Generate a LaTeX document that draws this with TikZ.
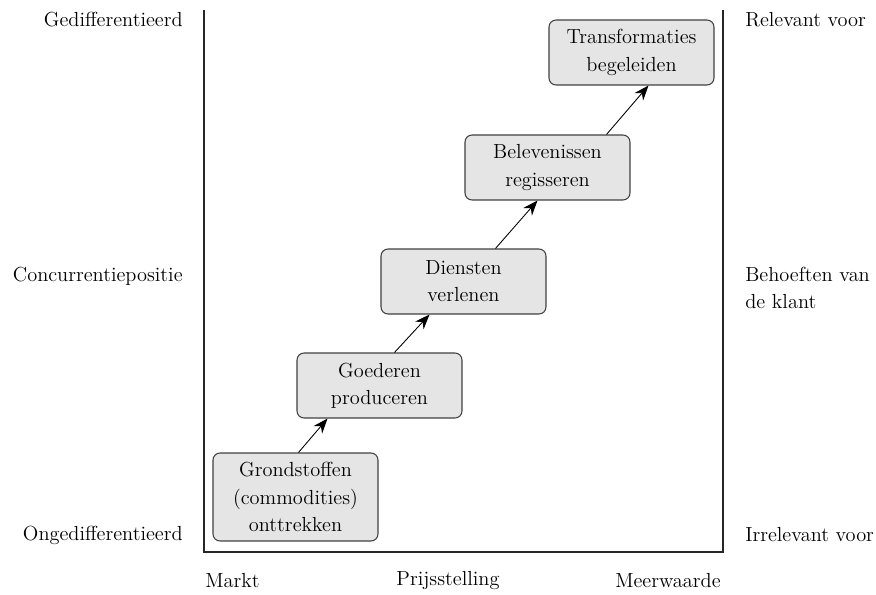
\documentclass[tikz,border=0pt]{standalone}
\usepackage{tikz}
\usetikzlibrary{arrows.meta,calc}

\begin{document}
\begin{tikzpicture}[
  x=0.02cm, y=-0.02cm,
  every node/.style={font=\fontsize{11.6}{15.5}\selectfont},
  stage/.style={rectangle, rounded corners=4pt, draw=black!75, fill=black!10,
                line width=0.6pt, minimum width=3.3cm, minimum height=1.3cm,
                text width=3.1cm, align=center, inner sep=2pt},
  arrow/.style={-{Stealth[length=8.5pt, width=6.5pt]}, line width=0.5pt, draw=black},
  axislabel/.style={inner sep=0pt},
]
\useasboundingbox (0,0) rectangle (876,595);

%% Frame
\draw[line width=0.65pt, black!85] (204,10) -- (204,552) -- (723,552) -- (723,10);

%% Stages
\node[stage, minimum height=1.76cm] (grond) at (295.5,497) {Grondstoffen\\(commodities)\\onttrekken};
\node[stage] (goed)  at (379.5,385.5) {Goederen\\produceren};
\node[stage] (dien)  at (463.5,281.5) {Diensten\\verlenen};
\node[stage] (bel)   at (547.5,167.5) {Belevenissen\\regisseren};
\node[stage] (trans) at (631.5,52.5)  {Transformaties\\begeleiden};

%% Arrows between stages
\draw[arrow] ($(grond.north west)+(86,0)$) -- ($(goed.south west)+(31,0)$);
\draw[arrow] ($(goed.north west)+(98,0)$)  -- ($(dien.south west)+(49,0)$);
\draw[arrow] ($(dien.north west)+(115,0)$) -- ($(bel.south west)+(73,0)$);
\draw[arrow] ($(bel.north west)+(142,0)$)  -- ($(trans.south west)+(100,0)$);

%% Left axis
\node[axislabel, anchor=east] (gedif)  at (183,20)  {Gedifferentieerd};
\node[axislabel, anchor=east] (conc)   at (183,276) {Concurrentiepositie};
\node[axislabel, anchor=east] (ongedif) at (183,535) {Ongedifferentieerd};

%% Right axis
\node[axislabel, anchor=west] (relev)  at (745,20)  {Relevant voor};
\node[axislabel, anchor=west, align=left] (behoef) at (745,288) {Behoeften van\\de klant};
\node[axislabel, anchor=west] (irrel)  at (745,535) {Irrelevant voor};

%% Bottom axis
\node[axislabel, anchor=west] (markt) at (205,581) {Markt};
\node[axislabel] (prijs) at (448,581) {Prijsstelling};
\node[axislabel, anchor=east] (meer) at (721,581) {Meerwaarde};
\end{tikzpicture}
\end{document}
